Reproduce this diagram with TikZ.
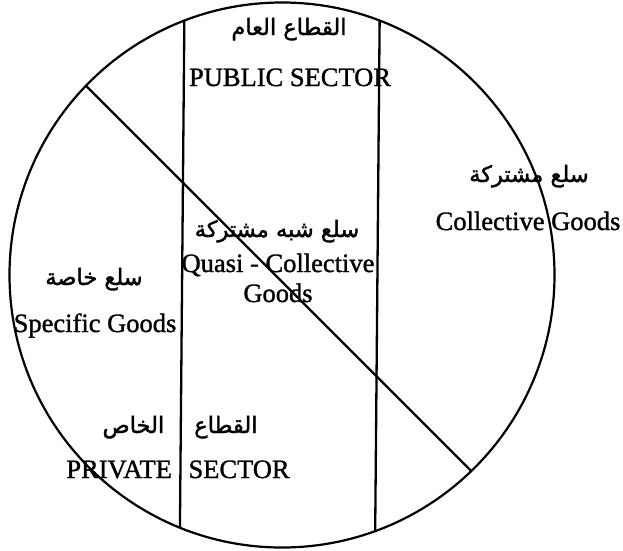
\documentclass[tikz,border=0pt]{standalone}
\usepackage{fontspec}
\setmainfont{Liberation Serif}[RawFeature={embolden=1.2}]
\newfontfamily\arabicfont[Script=Arabic,RawFeature={embolden=1.6}]{DejaVu Sans}
\TeXXeTstate=1
\usepackage{tikz}

\begin{document}
\begin{tikzpicture}[x=1pt, y=-1pt, every node/.style={inner sep=0pt, anchor=base}]

    % Styles for the sector wheel
    \tikzset{
        rim/.style={circle, draw=black, line width=2.2pt, minimum size=545pt, inner sep=0pt, outer sep=0pt},
        divider/.style={draw=black, line width=2.3pt},
        arlabel/.style={font=\fontsize{22.5}{26}\selectfont\arabicfont},
        enlabel/.style={font=\fontsize{26.5}{30}\selectfont, align=center}
    }

    \useasboundingbox (0,0) rectangle (623,550);

    % The whole economy as one disc
    \node[rim] (wheel) at (282,275) {};

    % Public sector band and the goods split
    \draw[divider] (wheel.111.2) -- (wheel.248.8);
    \draw[divider] (wheel.69.9) -- (wheel.290.1);
    \draw[divider] (wheel.136.2) -- (wheel.314.85);

    % Public sector
    \node[arlabel] (publicAr) at (289,35) {\beginR القطاع العام\endR};
    \node[enlabel] (publicEn) at (290,86) {PUBLIC SECTOR};

    % Collective goods
    \node[arlabel] (collectAr) at (529,182) {\beginR سلع مشتركة\endR};
    \node[enlabel] (collectEn) at (528,230) {Collective Goods};

    % Quasi-collective goods
    \node[arlabel] (quasiAr) at (277,237) {\beginR سلع شبه مشتركة\endR};
    \node[enlabel] (quasiEn) at (278,272) {Quasi - Collective};
    \node[enlabel] (quasiGoods) at (278,302) {Goods};

    % Specific goods
    \node[arlabel] (specificAr) at (94,285) {\beginR سلع خاصة\endR};
    \node[enlabel] (specificEn) at (95,332) {Specific Goods};

    % Private sector
    \node[arlabel] (privateAr) at (180,433) {\beginR القطاع\hspace{30pt}الخاص\endR};
    \node[enlabel] (privateEn) at (178,478) {PRIVATE\hspace{10pt} SECTOR};

\end{tikzpicture}
\end{document}
